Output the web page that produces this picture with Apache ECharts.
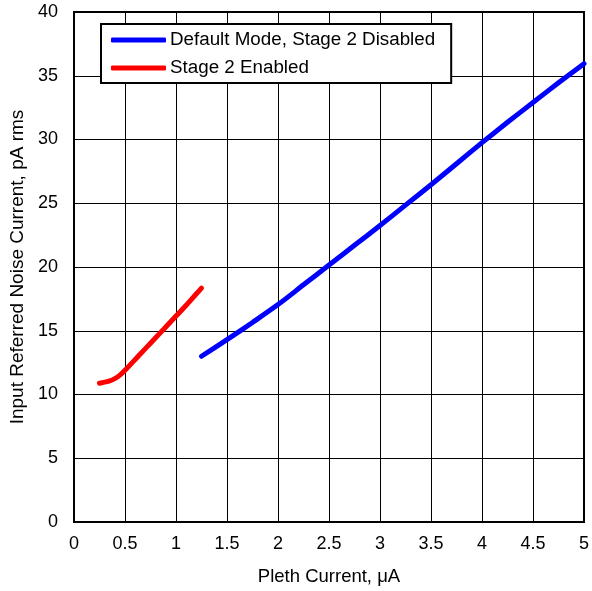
<!DOCTYPE html>
<html><head><meta charset="utf-8">
<script src="https://cdn.jsdelivr.net/npm/echarts@6/dist/echarts.min.js"></script>
<style>html,body{margin:0;padding:0;background:#fff}#c{width:592px;height:591px}</style>
</head><body><div id="c"></div>
<script>
const xTicks = [0, 0.5, 1, 1.5, 2, 2.5, 3, 3.5, 4, 4.5, 5];
const yTicks = [0, 5, 10, 15, 20, 25, 30, 35, 40];
const blueX = [1.25, 1.5, 1.75, 2, 2.25, 2.5, 2.75, 3, 3.25, 3.5, 3.75, 4, 4.25, 4.5, 4.75, 5];
const blueY = [13.0, 14.3, 15.65, 17.05, 18.6, 20.15, 21.7, 23.25, 24.85, 26.45, 28.1, 29.75, 31.35, 32.9, 34.45, 35.95];
const redX = [0.25, 0.3, 0.35, 0.4, 0.45, 0.5, 0.6, 0.7, 0.8, 0.9, 1.0, 1.1, 1.2, 1.25];
const redY = [10.88, 10.97, 11.07, 11.25, 11.52, 11.9, 12.75, 13.6, 14.45, 15.3, 16.15, 17.0, 17.9, 18.35];
const blueName = 'Default Mode, Stage 2 Disabled';
const redName = 'Stage 2 Enabled';

const chart = echarts.init(document.getElementById('c'), null, {renderer: 'canvas'});
const font = 'Liberation Sans, Arial, sans-serif';
chart.setOption({
  animation: false,
  grid: {left: 74, top: 12, right: 5, bottom: 68, show: true, borderColor: '#000', borderWidth: 2, backgroundColor: 'transparent'},
  legend: {
    left: 101, top: 24, orient: 'vertical',
    data: [{name: blueName}, {name: redName}],
    borderColor: '#000', borderWidth: 2, backgroundColor: '#fff',
    padding: [6, 16, 5, 10],
    itemWidth: 55, itemHeight: 5, itemGap: 8,
    icon: 'roundRect',
    textStyle: {fontFamily: font, fontSize: 18.8, color: '#000', lineHeight: 20, padding: [0, 0, 0, -1]}
  },
  xAxis: {
    type: 'value', min: 0, max: 5, interval: 0.5,
    name: 'Pleth Current, μA', nameLocation: 'middle', nameGap: 45,
    nameTextStyle: {fontFamily: font, fontSize: 18.5, color: '#000'},
    axisLine: {show: false}, axisTick: {show: false},
    splitLine: {show: true, lineStyle: {color: '#000', width: 1}},
    axisLabel: {fontFamily: font, fontSize: 18, color: '#000', margin: 13,
      formatter: v => xTicks.includes(+v.toFixed(2)) ? String(+v.toFixed(2)) : ''}
  },
  yAxis: {
    type: 'value', min: 0, max: 40, interval: 5,
    name: 'Input Referred Noise Current, pA rms', nameLocation: 'middle', nameGap: 47,
    nameTextStyle: {fontFamily: font, fontSize: 19, color: '#000'},
    axisLine: {show: false}, axisTick: {show: false},
    splitLine: {show: true, lineStyle: {color: '#000', width: 1}},
    axisLabel: {fontFamily: font, fontSize: 18, color: '#000', margin: 16,
      formatter: v => yTicks.includes(v) ? String(v) : ''}
  },
  series: [
    {name: blueName, type: 'line', data: blueX.map((x, i) => [x, blueY[i]]), smooth: 0.3, showSymbol: false,
     lineStyle: {color: '#0000ff', width: 5, cap: 'round', join: 'round'}, itemStyle: {color: '#0000ff'}, z: 3},
    {name: redName, type: 'line', data: redX.map((x, i) => [x, redY[i]]), smooth: 0.3, showSymbol: false,
     lineStyle: {color: '#ff0000', width: 5, cap: 'round', join: 'round'}, itemStyle: {color: '#ff0000'}, z: 3}
  ]
});
</script></body></html>
